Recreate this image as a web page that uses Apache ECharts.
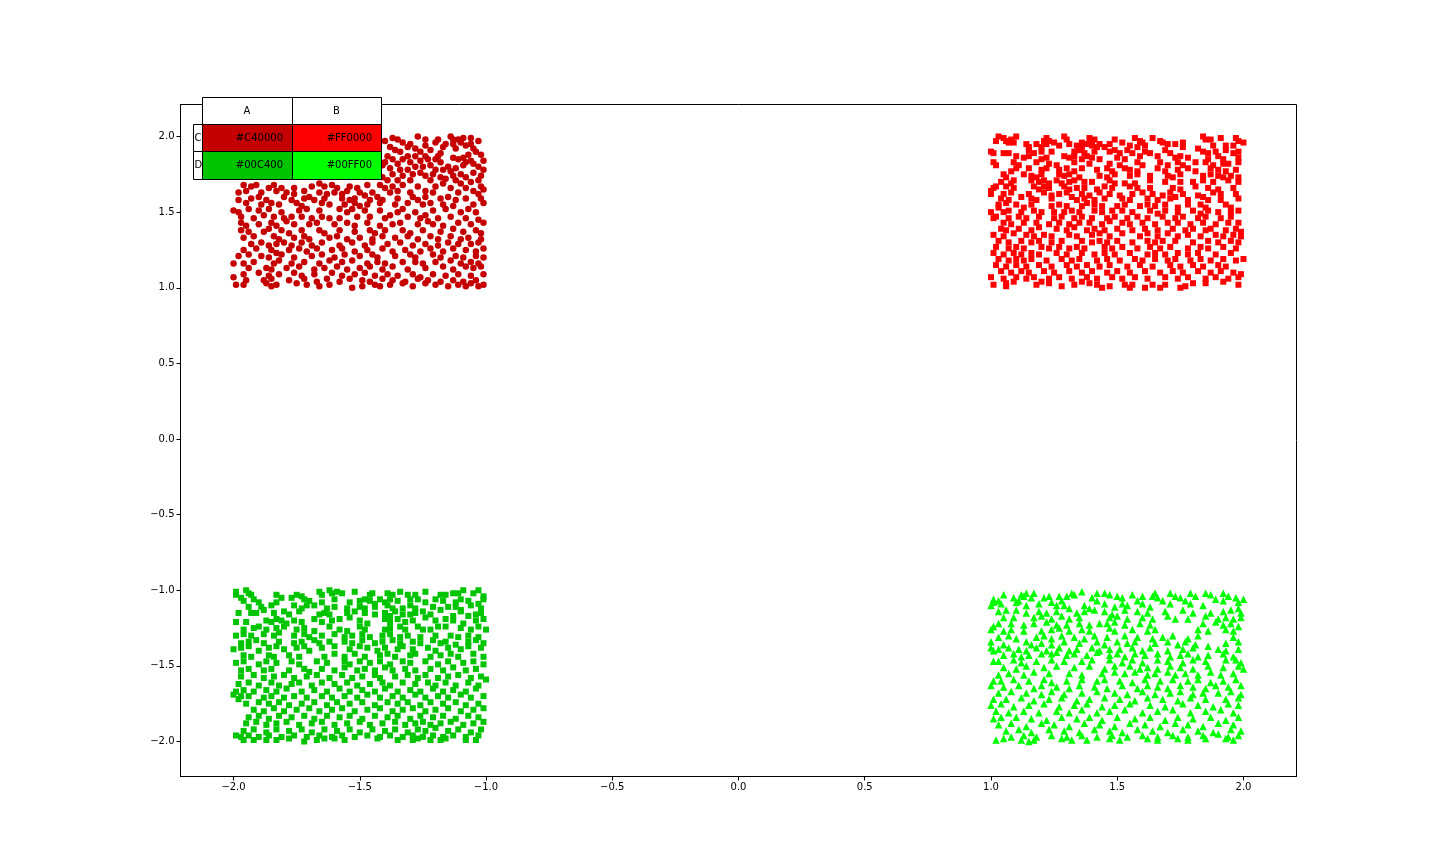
<!DOCTYPE html>
<html><head><meta charset="utf-8">
<script src="https://cdn.jsdelivr.net/npm/echarts@6/dist/echarts.min.js"></script>
<style>html,body{margin:0;padding:0;background:#fff}#c{width:1440px;height:864px}</style>
</head><body><div id="c"></div>
<script>
const xTicks=[-2,-1.5,-1,-0.5,0,0.5,1,1.5,2];
const yTicks=[-2,-1.5,-1,-0.5,0,0.5,1,1.5,2];
const tableCols=['A','B'];
const tableRows=['C','D'];
const tableCells=[['#C40000','#FF0000'],['#00C400','#00FF00']];
const darkRedCircles=[
[-1.27,2],[-1.14,2],[-1.13,1.98],[-1.06,1.99],[-1.24,1.98],[-1.37,1.99],[-1.35,1.98],[-1.4,1.97],[-1.19,1.98],[-1.2,1.96],[-1.11,1.98],[-1.09,1.99],[-1.1,1.96],[-1.33,1.96],[-1.3,1.95],[-1.31,1.93],[-1.24,1.94],[-1.16,1.95],[-1.17,1.93],[-1.13,1.95],[-1.08,1.94],[-1.06,1.95],[-1.03,1.97],
[-1.38,1.93],[-1.36,1.91],[-1.34,1.9],[-1.28,1.92],[-1.26,1.9],[-1.22,1.91],[-1.18,1.89],[-1.19,1.87],[-1.2,1.85],[-1.12,1.92],[-1.05,1.92],[-1.04,1.9],[-1.02,1.88],[-1.07,1.88],[-1.09,1.86],[-1.11,1.85],[-1.13,1.86],[-1.08,1.83],[-1.09,1.81],[-1.06,1.84],[-1.05,1.82],
[-1.39,1.87],[-1.37,1.85],[-1.31,1.87],[-1.28,1.87],[-1.24,1.87],[-1.23,1.85],[-1.26,1.84],[-1.3,1.83],[-1.33,1.85],[-1.35,1.82],[-1.4,1.83],[-1.41,1.81],[-1.18,1.83],[-1.15,1.8],[-1.22,1.81],[-1.25,1.8],[-1.28,1.8],[-1.01,1.84],[-1.03,1.8],[-1.01,1.78],[-1.38,1.79],[-1.34,1.78],[-1.31,1.78],[-1.2,1.78],[-1.17,1.78],[-1.14,1.77],[-1.12,1.79],
[-1.37,1.75],[-1.33,1.74],[-1.29,1.75],[-1.26,1.76],[-1.24,1.74],[-1.21,1.75],[-1.18,1.73],[-1.16,1.72],[-1.13,1.74],[-1.1,1.75],[-1.08,1.73],[-1.05,1.76],[-1.02,1.74],[-1.41,1.73],[-1.39,1.71],[-1.35,1.71],[-1.3,1.71],[-1.22,1.71],[-1.12,1.71],[-1.1,1.69],[-1.06,1.7],[-1.03,1.71],
[-1.96,1.68],[-1.93,1.67],[-1.91,1.68],[-1.86,1.66],[-1.84,1.68],[-1.81,1.66],[-1.76,1.66],[-1.69,1.67],[-1.66,1.69],[-1.64,1.67],[-1.61,1.68],[-1.59,1.66],[-1.54,1.67],[-1.51,1.66],[-1.47,1.68],[-1.42,1.68],[-1.4,1.66],[-1.37,1.67],[-1.33,1.68],[-1.27,1.67],[-1.2,1.67],[-1.17,1.69],[-1.14,1.66],[-1.08,1.66],[-1.02,1.67],[-1.01,1.65],
[-1.98,1.63],[-1.95,1.64],[-1.89,1.63],[-1.83,1.64],[-1.79,1.63],[-1.76,1.62],[-1.72,1.64],[-1.66,1.63],[-1.63,1.62],[-1.6,1.63],[-1.57,1.62],[-1.55,1.64],[-1.5,1.63],[-1.48,1.61],[-1.45,1.63],[-1.38,1.63],[-1.35,1.64],[-1.3,1.63],[-1.24,1.64],[-1.21,1.63],[-1.11,1.63],[-1.05,1.64],[-1.03,1.62],
[-1.98,1.58],[-1.93,1.59],[-1.9,1.6],[-1.87,1.58],[-1.8,1.6],[-1.77,1.58],[-1.72,1.59],[-1.7,1.6],[-1.68,1.58],[-1.64,1.59],[-1.57,1.59],[-1.54,1.58],[-1.52,1.59],[-1.46,1.58],[-1.43,1.6],[-1.41,1.58],[-1.35,1.59],[-1.29,1.6],[-1.27,1.58],[-1.24,1.6],[-1.18,1.59],[-1.15,1.6],[-1.12,1.58],[-1.08,1.59],[-1.02,1.59],
[-1.95,1.56],[-1.89,1.55],[-1.85,1.56],[-1.82,1.55],[-1.75,1.56],[-1.73,1.54],[-1.65,1.56],[-1.62,1.55],[-1.56,1.55],[-1.52,1.56],[-1.5,1.54],[-1.47,1.55],[-1.42,1.56],[-1.36,1.55],[-1.31,1.56],[-1.25,1.55],[-1.22,1.56],[-1.17,1.55],[-1.13,1.54],[-1.05,1.55],[-1.01,1.56],
[-2,1.51],[-1.98,1.5],[-1.94,1.52],[-1.9,1.51],[-1.86,1.52],[-1.81,1.5],[-1.74,1.51],[-1.71,1.52],[-1.66,1.51],[-1.58,1.52],[-1.55,1.5],[-1.53,1.52],[-1.48,1.51],[-1.42,1.51],[-1.35,1.5],[-1.33,1.52],[-1.28,1.5],[-1.21,1.51],[-1.16,1.52],[-1.1,1.5],[-1.07,1.52],[-1.04,1.5],
[-1.97,1.47],[-1.92,1.46],[-1.88,1.48],[-1.84,1.47],[-1.8,1.46],[-1.77,1.47],[-1.73,1.47],[-1.69,1.46],[-1.65,1.47],[-1.62,1.46],[-1.58,1.46],[-1.51,1.47],[-1.46,1.47],[-1.4,1.46],[-1.38,1.48],[-1.31,1.47],[-1.26,1.46],[-1.24,1.48],[-1.19,1.46],[-1.14,1.47],[-1.08,1.46],[-1.03,1.45],
[-1.97,1.43],[-1.95,1.41],[-1.9,1.42],[-1.85,1.43],[-1.83,1.41],[-1.79,1.44],[-1.76,1.42],[-1.7,1.42],[-1.67,1.43],[-1.6,1.42],[-1.55,1.43],[-1.52,1.41],[-1.47,1.43],[-1.42,1.41],[-1.37,1.42],[-1.34,1.43],[-1.27,1.42],[-1.23,1.44],[-1.21,1.42],[-1.17,1.41],[-1.11,1.43],[-1.06,1.42],[-1.01,1.43],
[-1.97,1.38],[-1.94,1.37],[-1.88,1.37],[-1.86,1.39],[-1.81,1.38],[-1.78,1.36],[-1.73,1.38],[-1.66,1.38],[-1.64,1.36],[-1.58,1.38],[-1.52,1.37],[-1.46,1.38],[-1.44,1.36],[-1.4,1.38],[-1.33,1.38],[-1.3,1.36],[-1.25,1.38],[-1.18,1.37],[-1.13,1.39],[-1.09,1.37],[-1.04,1.38],[-1.02,1.36],
[-1.96,1.33],[-1.92,1.34],[-1.84,1.34],[-1.82,1.32],[-1.76,1.33],[-1.72,1.34],[-1.7,1.32],[-1.62,1.33],[-1.59,1.34],[-1.55,1.32],[-1.5,1.33],[-1.45,1.32],[-1.41,1.34],[-1.36,1.33],[-1.31,1.34],[-1.27,1.32],[-1.22,1.34],[-1.19,1.32],[-1.14,1.34],[-1.1,1.32],[-1.07,1.33],[-1.02,1.32],
[-1.93,1.29],[-1.89,1.3],[-1.86,1.28],[-1.83,1.29],[-1.8,1.3],[-1.77,1.28],[-1.73,1.3],[-1.69,1.28],[-1.65,1.3],[-1.58,1.28],[-1.53,1.3],[-1.48,1.28],[-1.45,1.3],[-1.39,1.29],[-1.34,1.3],[-1.29,1.28],[-1.24,1.29],[-1.19,1.28],[-1.15,1.3],[-1.11,1.29],[-1.06,1.29],[-1.03,1.3],
[-1.96,1.25],[-1.91,1.26],[-1.85,1.25],[-1.83,1.23],[-1.78,1.25],[-1.74,1.26],[-1.71,1.24],[-1.67,1.26],[-1.61,1.25],[-1.57,1.26],[-1.52,1.24],[-1.47,1.25],[-1.41,1.26],[-1.37,1.24],[-1.32,1.25],[-1.26,1.24],[-1.22,1.26],[-1.17,1.24],[-1.13,1.26],[-1.08,1.25],[-1.04,1.24],[-1.01,1.26],
[-1.98,1.21],[-1.94,1.22],[-1.89,1.21],[-1.86,1.2],[-1.81,1.22],[-1.76,1.2],[-1.69,1.21],[-1.65,1.22],[-1.6,1.2],[-1.56,1.22],[-1.5,1.21],[-1.45,1.22],[-1.43,1.2],[-1.36,1.21],[-1.3,1.22],[-1.28,1.2],[-1.21,1.22],[-1.18,1.2],[-1.12,1.21],[-1.09,1.2],[-1.04,1.21],[-1.01,1.2],
[-1.96,1.16],[-1.92,1.17],[-1.84,1.16],[-1.82,1.18],[-1.77,1.16],[-1.72,1.17],[-1.66,1.16],[-1.62,1.18],[-1.57,1.17],[-1.53,1.18],[-1.47,1.16],[-1.43,1.17],[-1.4,1.16],[-1.33,1.17],[-1.28,1.17],[-1.25,1.16],[-1.2,1.17],[-1.14,1.18],[-1.1,1.16],[-1.06,1.17],[-1.03,1.16],
[-2,1.16],[-1.94,1.13],[-1.87,1.13],[-1.85,1.12],[-1.79,1.13],[-1.74,1.14],[-1.68,1.12],[-1.64,1.13],[-1.59,1.14],[-1.55,1.12],[-1.5,1.13],[-1.46,1.14],[-1.41,1.12],[-1.37,1.14],[-1.31,1.12],[-1.24,1.13],[-1.17,1.14],[-1.13,1.12],[-1.08,1.14],[-1.05,1.13],[-1.02,1.14],
[-2,1.07],[-1.96,1.09],[-1.9,1.1],[-1.86,1.08],[-1.82,1.09],[-1.76,1.1],[-1.73,1.08],[-1.68,1.09],[-1.61,1.1],[-1.57,1.08],[-1.52,1.09],[-1.48,1.1],[-1.44,1.08],[-1.39,1.09],[-1.35,1.08],[-1.29,1.09],[-1.26,1.07],[-1.21,1.09],[-1.16,1.08],[-1.11,1.09],[-1.06,1.08],[-1.01,1.09],
[-1.95,1.05],[-1.88,1.05],[-1.85,1.06],[-1.78,1.05],[-1.72,1.06],[-1.67,1.04],[-1.63,1.06],[-1.58,1.04],[-1.54,1.06],[-1.49,1.05],[-1.46,1.04],[-1.41,1.06],[-1.37,1.05],[-1.32,1.04],[-1.27,1.06],[-1.23,1.05],[-1.18,1.04],[-1.13,1.05],[-1.09,1.04],[-1.04,1.05],
[-1.99,1.02],[-1.96,1.02],[-1.87,1.03],[-1.85,1.01],[-1.83,1.02],[-1.75,1.03],[-1.71,1.02],[-1.66,1.01],[-1.62,1.02],[-1.53,1],[-1.49,1.01],[-1.44,1.02],[-1.42,1.01],[-1.38,1.02],[-1.33,1.03],[-1.29,1.01],[-1.24,1.03],[-1.2,1.02],[-1.15,1.01],[-1.11,1.02],[-1.08,1.01],[-1.06,1.03],[-1.03,1.01],[-1.01,1.02]
];
const redSquares=[
[1.03,2],[1.02,1.97],[1.05,1.99],[1.06,1.97],[1.08,1.98],[1.07,1.96],[1.09,1.96],[1.1,2],[1.22,1.99],[1.23,1.97],[1.21,1.97],[1.29,2],[1.3,1.98],[1.39,1.99],[1.41,1.98],[1.4,1.97],[1.49,1.98],[1.57,1.99],[1.59,1.97],[1.6,1.96],[1.64,1.99],[1.67,1.97],[1.68,1.96],[1.76,1.96],[1.84,2],[1.85,1.98],[1.87,1.98],[1.91,1.99],[1.97,1.99],[1.98,1.97],[2,1.96],
[1.14,1.95],[1.15,1.93],[1.18,1.95],[1.2,1.93],[1.22,1.95],[1.25,1.96],[1.27,1.94],[1.31,1.95],[1.36,1.96],[1.34,1.94],[1.36,1.93],[1.38,1.95],[1.4,1.94],[1.43,1.95],[1.45,1.93],[1.42,1.93],[1.47,1.95],[1.52,1.96],[1.55,1.94],[1.58,1.93],[1.61,1.94],[1.7,1.95],[1.73,1.95],[1.76,1.93],[1.88,1.94],[1.93,1.94],[1.96,1.94],
[1,1.9],[1.01,1.89],[1.05,1.89],[1.07,1.89],[1.15,1.91],[1.17,1.89],[1.2,1.9],[1.24,1.9],[1.33,1.9],[1.35,1.91],[1.37,1.89],[1.41,1.9],[1.47,1.9],[1.49,1.91],[1.51,1.89],[1.54,1.91],[1.56,1.89],[1.61,1.9],[1.63,1.89],[1.69,1.91],[1.71,1.89],[1.82,1.92],[1.84,1.9],[1.86,1.89],[1.89,1.9],[1.93,1.91],[1.96,1.89],[1.98,1.9],
[1.1,1.87],[1.13,1.86],[1.15,1.87],[1.2,1.85],[1.22,1.86],[1.29,1.87],[1.31,1.86],[1.33,1.87],[1.36,1.85],[1.38,1.87],[1.4,1.86],[1.43,1.85],[1.5,1.86],[1.53,1.85],[1.59,1.87],[1.66,1.87],[1.73,1.86],[1.75,1.87],[1.78,1.86],[1.86,1.85],[1.9,1.87],[1.92,1.85],[1.98,1.86],
[1.01,1.83],[1.02,1.81],[1.09,1.83],[1.11,1.81],[1.18,1.83],[1.23,1.82],[1.26,1.81],[1.33,1.83],[1.39,1.82],[1.47,1.82],[1.51,1.81],[1.58,1.83],[1.6,1.81],[1.67,1.83],[1.7,1.81],[1.74,1.83],[1.76,1.81],[1.81,1.83],[1.85,1.83],[1.88,1.81],[1.92,1.82],[1.94,1.82],[1.98,1.83],
[1.1,1.79],[1.08,1.77],[1.15,1.79],[1.2,1.78],[1.22,1.79],[1.27,1.78],[1.3,1.79],[1.33,1.77],[1.36,1.79],[1.42,1.78],[1.46,1.79],[1.48,1.77],[1.53,1.79],[1.55,1.78],[1.58,1.77],[1.66,1.79],[1.69,1.77],[1.74,1.78],[1.78,1.79],[1.81,1.77],[1.87,1.79],[1.9,1.78],[1.93,1.77],[1.97,1.78],
[1.05,1.75],[1.06,1.73],[1.13,1.75],[1.16,1.74],[1.18,1.73],[1.2,1.75],[1.27,1.75],[1.29,1.74],[1.31,1.75],[1.35,1.73],[1.43,1.74],[1.46,1.73],[1.49,1.75],[1.55,1.74],[1.58,1.75],[1.63,1.74],[1.7,1.74],[1.72,1.73],[1.75,1.75],[1.84,1.74],[1.87,1.75],[1.9,1.74],[1.92,1.73],[1.95,1.74],[1.98,1.73],
[1.04,1.7],[1.09,1.71],[1.08,1.69],[1.16,1.71],[1.19,1.7],[1.21,1.71],[1.23,1.69],[1.26,1.71],[1.28,1.69],[1.31,1.7],[1.33,1.71],[1.37,1.7],[1.4,1.7],[1.47,1.71],[1.49,1.69],[1.53,1.69],[1.57,1.69],[1.63,1.71],[1.69,1.7],[1.75,1.7],[1.8,1.7],[1.84,1.71],[1.88,1.7],[1.94,1.71],[1.98,1.7],
[1.01,1.66],[1.02,1.67],[1.06,1.67],[1.09,1.66],[1.17,1.67],[1.19,1.65],[1.21,1.67],[1.23,1.66],[1.29,1.67],[1.31,1.65],[1.34,1.66],[1.37,1.66],[1.42,1.65],[1.45,1.67],[1.48,1.66],[1.55,1.67],[1.58,1.66],[1.63,1.66],[1.72,1.66],[1.75,1.65],[1.81,1.67],[1.86,1.66],[1.9,1.65],[1.96,1.66],
[1,1.62],[1,1.64],[1.05,1.62],[1.08,1.63],[1.15,1.62],[1.21,1.63],[1.24,1.61],[1.27,1.62],[1.3,1.63],[1.36,1.62],[1.39,1.61],[1.43,1.63],[1.47,1.62],[1.51,1.61],[1.56,1.62],[1.6,1.63],[1.64,1.62],[1.68,1.61],[1.71,1.63],[1.76,1.62],[1.82,1.61],[1.88,1.63],[1.91,1.62],[1.97,1.62],
[1.04,1.59],[1.07,1.58],[1.12,1.6],[1.16,1.59],[1.18,1.58],[1.24,1.59],[1.32,1.6],[1.34,1.58],[1.37,1.59],[1.41,1.58],[1.45,1.59],[1.52,1.59],[1.55,1.58],[1.62,1.59],[1.66,1.58],[1.71,1.59],[1.73,1.6],[1.78,1.58],[1.84,1.6],[1.86,1.58],[1.91,1.58],[1.98,1.59],
[1.03,1.55],[1.03,1.53],[1.06,1.56],[1.1,1.55],[1.13,1.53],[1.16,1.55],[1.24,1.54],[1.27,1.55],[1.3,1.54],[1.36,1.54],[1.38,1.56],[1.41,1.55],[1.44,1.54],[1.5,1.54],[1.53,1.55],[1.59,1.54],[1.62,1.55],[1.65,1.54],[1.69,1.55],[1.74,1.53],[1.78,1.55],[1.83,1.55],[1.85,1.53],[1.93,1.55],[1.95,1.53],
[1,1.5],[1.05,1.5],[1.07,1.51],[1.12,1.5],[1.17,1.51],[1.2,1.5],[1.25,1.5],[1.29,1.5],[1.32,1.51],[1.35,1.5],[1.41,1.51],[1.44,1.5],[1.48,1.51],[1.52,1.51],[1.56,1.5],[1.63,1.51],[1.66,1.49],[1.69,1.51],[1.74,1.5],[1.8,1.51],[1.83,1.49],[1.86,1.51],[1.9,1.5],[1.95,1.5],[1.98,1.51],
[1.01,1.46],[1.02,1.47],[1.07,1.46],[1.11,1.47],[1.14,1.46],[1.19,1.47],[1.25,1.46],[1.28,1.47],[1.33,1.46],[1.36,1.47],[1.4,1.46],[1.46,1.46],[1.49,1.47],[1.54,1.46],[1.58,1.47],[1.62,1.46],[1.68,1.47],[1.73,1.46],[1.76,1.47],[1.82,1.46],[1.85,1.47],[1.91,1.46],[1.95,1.47],
[1.05,1.43],[1.08,1.42],[1.13,1.43],[1.18,1.43],[1.23,1.42],[1.27,1.43],[1.31,1.42],[1.35,1.43],[1.39,1.43],[1.44,1.42],[1.47,1.44],[1.52,1.43],[1.55,1.42],[1.6,1.43],[1.65,1.42],[1.7,1.43],[1.74,1.43],[1.79,1.42],[1.84,1.43],[1.89,1.42],[1.94,1.43],[1.98,1.43],
[1.04,1.39],[1.06,1.38],[1.11,1.39],[1.16,1.38],[1.19,1.4],[1.26,1.39],[1.3,1.38],[1.33,1.4],[1.38,1.38],[1.41,1.39],[1.45,1.38],[1.5,1.39],[1.56,1.38],[1.61,1.39],[1.66,1.38],[1.72,1.39],[1.77,1.38],[1.8,1.39],[1.85,1.38],[1.87,1.39],[1.93,1.38],[1.97,1.39],[1.99,1.37],
[1.01,1.35],[1.05,1.34],[1.09,1.36],[1.14,1.35],[1.17,1.34],[1.21,1.35],[1.24,1.34],[1.31,1.35],[1.34,1.34],[1.4,1.35],[1.43,1.36],[1.47,1.34],[1.52,1.36],[1.59,1.34],[1.62,1.36],[1.66,1.34],[1.7,1.36],[1.74,1.34],[1.78,1.35],[1.83,1.34],[1.89,1.35],[1.92,1.34],[1.96,1.35],[1.99,1.34],
[1.03,1.31],[1.07,1.3],[1.12,1.31],[1.16,1.3],[1.19,1.31],[1.24,1.3],[1.28,1.31],[1.36,1.31],[1.4,1.3],[1.43,1.31],[1.46,1.3],[1.5,1.31],[1.56,1.3],[1.62,1.31],[1.65,1.3],[1.68,1.31],[1.73,1.31],[1.8,1.3],[1.86,1.31],[1.9,1.3],[1.95,1.31],[1.98,1.3],
[1.02,1.27],[1.07,1.26],[1.1,1.27],[1.13,1.26],[1.2,1.27],[1.23,1.26],[1.27,1.27],[1.31,1.26],[1.34,1.27],[1.37,1.26],[1.45,1.27],[1.48,1.26],[1.52,1.27],[1.58,1.26],[1.63,1.27],[1.67,1.26],[1.71,1.27],[1.78,1.26],[1.83,1.27],[1.86,1.26],[1.92,1.27],[1.97,1.26],
[1.01,1.23],[1.05,1.22],[1.09,1.23],[1.12,1.22],[1.16,1.23],[1.19,1.22],[1.26,1.23],[1.3,1.22],[1.36,1.23],[1.41,1.22],[1.45,1.23],[1.49,1.22],[1.55,1.23],[1.62,1.22],[1.65,1.23],[1.69,1.22],[1.74,1.23],[1.78,1.22],[1.82,1.23],[1.89,1.22],[1.95,1.23],
[1.03,1.19],[1.07,1.18],[1.1,1.19],[1.13,1.18],[1.16,1.19],[1.22,1.18],[1.28,1.19],[1.32,1.18],[1.35,1.19],[1.42,1.18],[1.46,1.19],[1.51,1.18],[1.57,1.19],[1.6,1.18],[1.65,1.19],[1.7,1.18],[1.73,1.19],[1.79,1.18],[1.83,1.19],[1.87,1.18],[1.92,1.19],[1.97,1.18],[2,1.19],
[1.02,1.15],[1.06,1.14],[1.1,1.15],[1.14,1.14],[1.19,1.15],[1.24,1.14],[1.3,1.15],[1.34,1.14],[1.38,1.15],[1.43,1.14],[1.47,1.15],[1.54,1.14],[1.59,1.15],[1.64,1.14],[1.71,1.15],[1.75,1.14],[1.8,1.15],[1.84,1.14],[1.9,1.15],[1.93,1.14],
[1.04,1.11],[1.08,1.1],[1.12,1.11],[1.15,1.1],[1.21,1.11],[1.25,1.1],[1.31,1.11],[1.36,1.1],[1.4,1.11],[1.46,1.1],[1.5,1.11],[1.55,1.1],[1.61,1.11],[1.67,1.1],[1.72,1.11],[1.76,1.1],[1.82,1.11],[1.87,1.1],[1.91,1.11],[1.96,1.1],[1.99,1.09],
[1,1.07],[1.05,1.06],[1.1,1.07],[1.14,1.06],[1.17,1.07],[1.23,1.06],[1.27,1.07],[1.32,1.06],[1.38,1.07],[1.42,1.06],[1.48,1.07],[1.52,1.06],[1.57,1.07],[1.62,1.06],[1.69,1.07],[1.74,1.06],[1.78,1.07],[1.85,1.06],[1.89,1.07],[1.94,1.06],[1.98,1.07],
[1.01,1.02],[1.06,1.01],[1.09,1.04],[1.06,1.03],[1.18,1.02],[1.2,1.04],[1.23,1.03],[1.28,1.01],[1.33,1.02],[1.36,1.04],[1.39,1.03],[1.42,1.02],[1.44,1],[1.47,1.01],[1.53,1.02],[1.55,1],[1.56,1.02],[1.61,1],[1.64,1.02],[1.67,1],[1.69,1.02],[1.75,1],[1.77,1.01],[1.8,1.03],[1.85,1.03],[1.92,1.04],[1.98,1.02]
];
const greenSquares=[
[-1.99,-1.01],[-1.95,-1],[-1.94,-1.02],[-1.99,-1.03],[-1.97,-1.05],[-1.93,-1.03],[-1.66,-1.01],[-1.65,-1.03],[-1.62,-1],[-1.61,-1.02],[-1.59,-1.01],[-1.83,-1.03],[-1.81,-1.05],[-1.77,-1.05],[-1.75,-1.03],[-1.73,-1.04],[-1.72,-1.06],[-1.57,-1.02],[-1.52,-1.01],[-1.46,-1.03],[-1.45,-1.02],[-1.39,-1.02],[-1.37,-1.03],[-1.34,-1.01],[-1.31,-1.03],[-1.28,-1.03],[-1.24,-1.01],[-1.18,-1.03],[-1.16,-1.03],[-1.13,-1.02],[-1.11,-1.02],[-1.09,-1],[-1.03,-1],[-1.01,-1.04],[-1.05,-1.02],[-1.01,-1.06],
[-1.96,-1.07],[-1.92,-1.06],[-1.9,-1.08],[-1.83,-1.08],[-1.85,-1.1],[-1.7,-1.07],[-1.68,-1.1],[-1.65,-1.08],[-1.6,-1.06],[-1.54,-1.08],[-1.5,-1.07],[-1.48,-1.06],[-1.46,-1.07],[-1.44,-1.09],[-1.42,-1.06],[-1.4,-1.08],[-1.38,-1.06],[-1.35,-1.07],[-1.3,-1.06],[-1.27,-1.06],[-1.24,-1.08],[-1.2,-1.06],[-1.17,-1.07],[-1.12,-1.08],[-1.1,-1.06],[-1.07,-1.07],[-1.03,-1.09],
[-1.94,-1.11],[-1.89,-1.11],[-1.88,-1.13],[-1.76,-1.1],[-1.73,-1.12],[-1.71,-1.1],[-1.63,-1.12],[-1.6,-1.11],[-1.55,-1.12],[-1.5,-1.11],[-1.48,-1.12],[-1.44,-1.11],[-1.39,-1.1],[-1.37,-1.12],[-1.33,-1.12],[-1.3,-1.1],[-1.28,-1.12],[-1.21,-1.11],[-1.18,-1.13],[-1.15,-1.11],[-1.12,-1.11],[-1.1,-1.13],[-1.06,-1.1],[-1.02,-1.12],
[-1.98,-1.15],[-1.93,-1.15],[-1.91,-1.15],[-1.84,-1.15],[-1.8,-1.14],[-1.78,-1.16],[-1.74,-1.14],[-1.66,-1.16],[-1.64,-1.15],[-1.62,-1.16],[-1.55,-1.15],[-1.52,-1.14],[-1.48,-1.15],[-1.44,-1.16],[-1.4,-1.15],[-1.38,-1.17],[-1.36,-1.14],[-1.33,-1.16],[-1.3,-1.16],[-1.28,-1.15],[-1.25,-1.14],[-1.22,-1.16],[-1.13,-1.17],[-1.1,-1.14],[-1.07,-1.17],[-1.04,-1.16],[-1.02,-1.15],
[-1.95,-1.21],[-1.99,-1.21],[-1.87,-1.2],[-1.85,-1.21],[-1.83,-1.19],[-1.81,-1.2],[-1.79,-1.22],[-1.76,-1.2],[-1.73,-1.21],[-1.68,-1.19],[-1.65,-1.21],[-1.61,-1.2],[-1.58,-1.19],[-1.54,-1.18],[-1.5,-1.2],[-1.47,-1.22],[-1.4,-1.19],[-1.38,-1.21],[-1.35,-1.19],[-1.32,-1.21],[-1.29,-1.2],[-1.24,-1.18],[-1.2,-1.2],[-1.16,-1.19],[-1.13,-1.2],[-1.09,-1.22],[-1.04,-1.2],[-1.01,-1.19],
[-1.96,-1.26],[-1.92,-1.25],[-1.9,-1.24],[-1.87,-1.26],[-1.83,-1.25],[-1.8,-1.24],[-1.75,-1.26],[-1.72,-1.25],[-1.68,-1.27],[-1.62,-1.24],[-1.58,-1.26],[-1.55,-1.27],[-1.5,-1.24],[-1.48,-1.26],[-1.4,-1.26],[-1.38,-1.25],[-1.34,-1.24],[-1.32,-1.26],[-1.27,-1.24],[-1.25,-1.26],[-1.22,-1.26],[-1.19,-1.24],[-1.16,-1.24],[-1.1,-1.25],[-1.06,-1.26],[-1.03,-1.24],[-1,-1.26],
[-1.99,-1.3],[-1.96,-1.29],[-1.93,-1.3],[-1.88,-1.29],[-1.84,-1.3],[-1.82,-1.28],[-1.76,-1.3],[-1.72,-1.29],[-1.7,-1.31],[-1.65,-1.3],[-1.6,-1.29],[-1.56,-1.31],[-1.53,-1.3],[-1.49,-1.29],[-1.46,-1.31],[-1.41,-1.3],[-1.38,-1.29],[-1.34,-1.31],[-1.31,-1.3],[-1.26,-1.31],[-1.2,-1.3],[-1.14,-1.3],[-1.11,-1.31],[-1.07,-1.3],[-1.03,-1.31],
[-1.97,-1.35],[-1.94,-1.34],[-1.91,-1.33],[-1.88,-1.35],[-1.82,-1.34],[-1.76,-1.35],[-1.73,-1.34],[-1.68,-1.33],[-1.66,-1.35],[-1.62,-1.34],[-1.56,-1.34],[-1.53,-1.35],[-1.49,-1.33],[-1.44,-1.35],[-1.41,-1.34],[-1.37,-1.33],[-1.34,-1.35],[-1.29,-1.34],[-1.26,-1.35],[-1.21,-1.33],[-1.18,-1.35],[-1.16,-1.34],[-1.12,-1.36],[-1.07,-1.34],[-1.04,-1.33],[-1.01,-1.35],
[-2,-1.39],[-1.97,-1.38],[-1.94,-1.37],[-1.9,-1.4],[-1.86,-1.38],[-1.83,-1.37],[-1.8,-1.39],[-1.75,-1.38],[-1.72,-1.37],[-1.7,-1.4],[-1.65,-1.38],[-1.6,-1.37],[-1.54,-1.39],[-1.5,-1.37],[-1.47,-1.38],[-1.43,-1.4],[-1.4,-1.38],[-1.35,-1.39],[-1.33,-1.37],[-1.29,-1.39],[-1.23,-1.38],[-1.2,-1.4],[-1.15,-1.38],[-1.1,-1.39],[-1.07,-1.37],[-1.02,-1.38],
[-1.96,-1.43],[-1.93,-1.44],[-1.86,-1.43],[-1.84,-1.44],[-1.78,-1.43],[-1.74,-1.44],[-1.64,-1.44],[-1.6,-1.42],[-1.56,-1.44],[-1.52,-1.42],[-1.48,-1.44],[-1.42,-1.43],[-1.39,-1.42],[-1.36,-1.44],[-1.3,-1.43],[-1.28,-1.42],[-1.22,-1.44],[-1.18,-1.43],[-1.14,-1.42],[-1.11,-1.44],[-1.05,-1.42],[-1.01,-1.44],
[-1.99,-1.48],[-1.96,-1.47],[-1.9,-1.49],[-1.87,-1.47],[-1.83,-1.48],[-1.77,-1.47],[-1.74,-1.49],[-1.67,-1.47],[-1.63,-1.48],[-1.56,-1.47],[-1.54,-1.49],[-1.5,-1.47],[-1.46,-1.48],[-1.42,-1.47],[-1.38,-1.49],[-1.33,-1.47],[-1.3,-1.48],[-1.24,-1.47],[-1.19,-1.49],[-1.15,-1.47],[-1.09,-1.48],[-1.05,-1.47],[-1.01,-1.49],
[-1.97,-1.53],[-1.94,-1.52],[-1.88,-1.53],[-1.85,-1.52],[-1.78,-1.53],[-1.72,-1.52],[-1.7,-1.54],[-1.65,-1.52],[-1.6,-1.53],[-1.56,-1.51],[-1.51,-1.53],[-1.48,-1.52],[-1.44,-1.53],[-1.4,-1.51],[-1.37,-1.53],[-1.32,-1.52],[-1.28,-1.53],[-1.22,-1.52],[-1.17,-1.53],[-1.13,-1.51],[-1.08,-1.53],[-1.04,-1.52],
[-1.97,-1.57],[-1.92,-1.56],[-1.88,-1.58],[-1.84,-1.57],[-1.8,-1.56],[-1.76,-1.58],[-1.71,-1.57],[-1.67,-1.56],[-1.62,-1.58],[-1.57,-1.56],[-1.53,-1.58],[-1.49,-1.57],[-1.44,-1.56],[-1.42,-1.58],[-1.36,-1.57],[-1.31,-1.56],[-1.27,-1.58],[-1.24,-1.56],[-1.19,-1.58],[-1.15,-1.57],[-1.11,-1.56],[-1.06,-1.58],[-1.02,-1.57],[-1,-1.59],
[-1.98,-1.62],[-1.94,-1.61],[-1.9,-1.63],[-1.85,-1.61],[-1.82,-1.63],[-1.77,-1.62],[-1.74,-1.61],[-1.69,-1.63],[-1.65,-1.61],[-1.6,-1.62],[-1.55,-1.61],[-1.51,-1.63],[-1.46,-1.62],[-1.41,-1.61],[-1.38,-1.63],[-1.33,-1.61],[-1.28,-1.62],[-1.23,-1.61],[-1.2,-1.63],[-1.16,-1.61],[-1.12,-1.63],[-1.07,-1.61],[-1.03,-1.63],
[-1.99,-1.67],[-1.96,-1.66],[-1.92,-1.67],[-1.87,-1.66],[-1.83,-1.67],[-1.79,-1.65],[-1.73,-1.67],[-1.68,-1.66],[-1.63,-1.67],[-1.58,-1.65],[-1.54,-1.67],[-1.49,-1.66],[-1.44,-1.67],[-1.4,-1.65],[-1.35,-1.67],[-1.3,-1.66],[-1.26,-1.67],[-1.21,-1.65],[-1.17,-1.67],[-1.13,-1.66],[-1.08,-1.67],[-1.04,-1.65],
[-2,-1.69],[-1.97,-1.7],[-1.98,-1.72],[-1.94,-1.7],[-1.88,-1.71],[-1.85,-1.7],[-1.8,-1.71],[-1.76,-1.7],[-1.71,-1.71],[-1.65,-1.7],[-1.61,-1.71],[-1.56,-1.7],[-1.51,-1.71],[-1.47,-1.69],[-1.42,-1.71],[-1.37,-1.7],[-1.33,-1.71],[-1.28,-1.69],[-1.24,-1.71],[-1.19,-1.7],[-1.15,-1.71],[-1.1,-1.69],[-1.06,-1.71],[-1.01,-1.7],
[-1.95,-1.75],[-1.9,-1.74],[-1.86,-1.75],[-1.82,-1.74],[-1.78,-1.76],[-1.73,-1.75],[-1.68,-1.74],[-1.63,-1.76],[-1.59,-1.74],[-1.54,-1.75],[-1.49,-1.74],[-1.44,-1.76],[-1.39,-1.74],[-1.35,-1.75],[-1.31,-1.74],[-1.26,-1.76],[-1.22,-1.74],[-1.17,-1.75],[-1.12,-1.74],[-1.08,-1.76],[-1.03,-1.75],
[-1.92,-1.79],[-1.88,-1.8],[-1.84,-1.78],[-1.8,-1.8],[-1.75,-1.79],[-1.7,-1.78],[-1.66,-1.8],[-1.61,-1.79],[-1.57,-1.78],[-1.52,-1.8],[-1.47,-1.79],[-1.42,-1.78],[-1.37,-1.8],[-1.33,-1.79],[-1.29,-1.78],[-1.24,-1.8],[-1.2,-1.79],[-1.15,-1.78],[-1.1,-1.8],[-1.05,-1.79],[-1.01,-1.78],
[-1.94,-1.84],[-1.9,-1.83],[-1.86,-1.85],[-1.82,-1.83],[-1.77,-1.84],[-1.72,-1.83],[-1.68,-1.85],[-1.63,-1.83],[-1.58,-1.84],[-1.54,-1.83],[-1.49,-1.85],[-1.44,-1.83],[-1.39,-1.84],[-1.35,-1.83],[-1.3,-1.85],[-1.26,-1.83],[-1.21,-1.84],[-1.17,-1.83],[-1.12,-1.85],[-1.07,-1.83],[-1.03,-1.84],
[-1.95,-1.88],[-1.91,-1.87],[-1.87,-1.89],[-1.83,-1.88],[-1.79,-1.87],[-1.74,-1.89],[-1.69,-1.88],[-1.65,-1.87],[-1.6,-1.89],[-1.55,-1.88],[-1.5,-1.87],[-1.46,-1.89],[-1.41,-1.88],[-1.36,-1.87],[-1.32,-1.89],[-1.28,-1.88],[-1.25,-1.87],[-1.22,-1.89],[-1.18,-1.88],[-1.14,-1.87],[-1.09,-1.89],[-1.05,-1.88],[-1.01,-1.87],
[-1.96,-1.93],[-1.92,-1.92],[-1.87,-1.94],[-1.83,-1.92],[-1.78,-1.93],[-1.73,-1.92],[-1.69,-1.94],[-1.64,-1.92],[-1.59,-1.93],[-1.54,-1.92],[-1.5,-1.94],[-1.45,-1.92],[-1.4,-1.93],[-1.36,-1.92],[-1.31,-1.94],[-1.27,-1.92],[-1.24,-1.93],[-1.2,-1.91],[-1.15,-1.93],[-1.11,-1.92],[-1.06,-1.94],[-1.02,-1.92],
[-1.99,-1.96],[-1.97,-1.97],[-1.94,-1.96],[-1.9,-1.97],[-1.86,-1.96],[-1.81,-1.97],[-1.76,-1.96],[-1.71,-1.97],[-1.66,-1.96],[-1.61,-1.97],[-1.57,-1.96],[-1.52,-1.97],[-1.47,-1.96],[-1.42,-1.97],[-1.38,-1.96],[-1.33,-1.97],[-1.29,-1.96],[-1.25,-1.97],[-1.21,-1.96],[-1.17,-1.97],[-1.13,-1.96],[-1.08,-1.97],[-1.03,-1.96],
[-1.96,-1.99],[-1.92,-1.99],[-1.87,-1.99],[-1.83,-1.99],[-1.78,-1.98],[-1.72,-2],[-1.67,-1.99],[-1.64,-1.98],[-1.6,-1.98],[-1.56,-1.99],[-1.43,-1.98],[-1.35,-1.99],[-1.29,-1.99],[-1.27,-1.98],[-1.22,-1.99],[-1.18,-1.99],[-1.16,-1.98],[-1.08,-1.99],[-1.04,-1.99]
];
const limeTriangles=[
[1.36,-1.01],[1.14,-1.02],[1.12,-1.03],[1.17,-1.02],[1.13,-1.04],[1.05,-1.03],[1.32,-1.02],[1.33,-1.03],[1.3,-1.04],[1.42,-1.02],[1.45,-1.02],[1.47,-1.03],[1.5,-1.04],[1.56,-1.03],[1.6,-1.04],[1.65,-1.02],[1.64,-1.04],[1.71,-1.02],[1.73,-1.04],[1.79,-1.02],[1.81,-1.04],[1.85,-1.02],[1.87,-1.03],[1.92,-1.02],[1.94,-1.04],
[1.01,-1.08],[1.03,-1.07],[1.01,-1.06],[1.09,-1.05],[1.11,-1.07],[1.16,-1.05],[1.21,-1.05],[1.23,-1.04],[1.27,-1.04],[1.28,-1.07],[1.4,-1.05],[1.42,-1.07],[1.52,-1.05],[1.58,-1.07],[1.66,-1.05],[1.68,-1.07],[1.75,-1.05],[1.77,-1.07],[1.89,-1.06],[1.92,-1.07],[1.97,-1.05],[2,-1.06],[1.98,-1.08],
[1,-1.1],[1.04,-1.09],[1.1,-1.08],[1.14,-1.1],[1.19,-1.09],[1.24,-1.08],[1.26,-1.1],[1.29,-1.1],[1.31,-1.12],[1.37,-1.1],[1.39,-1.12],[1.45,-1.09],[1.49,-1.11],[1.52,-1.09],[1.54,-1.1],[1.6,-1.09],[1.63,-1.11],[1.71,-1.09],[1.79,-1.09],[1.84,-1.1],[1.98,-1.12],
[1.03,-1.14],[1.06,-1.13],[1.1,-1.13],[1.14,-1.15],[1.19,-1.14],[1.22,-1.15],[1.26,-1.14],[1.34,-1.15],[1.37,-1.14],[1.41,-1.13],[1.45,-1.14],[1.48,-1.16],[1.53,-1.13],[1.58,-1.14],[1.62,-1.15],[1.69,-1.14],[1.76,-1.13],[1.8,-1.15],[1.87,-1.15],[1.92,-1.14],[1.95,-1.13],[1.99,-1.15],
[1.05,-1.18],[1.09,-1.18],[1.17,-1.18],[1.2,-1.17],[1.24,-1.19],[1.28,-1.17],[1.31,-1.19],[1.35,-1.18],[1.47,-1.18],[1.5,-1.17],[1.54,-1.19],[1.6,-1.18],[1.64,-1.19],[1.7,-1.17],[1.73,-1.19],[1.78,-1.19],[1.85,-1.17],[1.9,-1.19],[1.93,-1.18],[1.96,-1.19],[1.99,-1.18],
[1.01,-1.24],[1.03,-1.22],[1.08,-1.22],[1.13,-1.23],[1.17,-1.22],[1.22,-1.21],[1.26,-1.23],[1.3,-1.23],[1.35,-1.22],[1.39,-1.23],[1.43,-1.22],[1.46,-1.22],[1.49,-1.21],[1.53,-1.23],[1.59,-1.22],[1.63,-1.23],[1.84,-1.22],[1.89,-1.21],[1.92,-1.23],[1.95,-1.22],[1.98,-1.24],
[1,-1.26],[1.05,-1.27],[1.08,-1.26],[1.13,-1.27],[1.2,-1.27],[1.24,-1.26],[1.27,-1.25],[1.31,-1.27],[1.36,-1.26],[1.39,-1.27],[1.47,-1.25],[1.49,-1.27],[1.56,-1.26],[1.62,-1.27],[1.65,-1.26],[1.82,-1.26],[1.86,-1.27],[1.93,-1.26],[1.96,-1.27],
[1.03,-1.31],[1.07,-1.3],[1.1,-1.32],[1.18,-1.31],[1.21,-1.3],[1.24,-1.32],[1.28,-1.3],[1.33,-1.31],[1.37,-1.32],[1.41,-1.3],[1.46,-1.31],[1.53,-1.3],[1.58,-1.31],[1.64,-1.32],[1.68,-1.31],[1.72,-1.3],[1.78,-1.32],[1.82,-1.3],[1.96,-1.31],
[1,-1.34],[1.05,-1.36],[1.14,-1.34],[1.16,-1.36],[1.2,-1.35],[1.24,-1.36],[1.29,-1.34],[1.35,-1.35],[1.42,-1.34],[1.45,-1.36],[1.5,-1.34],[1.54,-1.35],[1.57,-1.34],[1.65,-1.35],[1.7,-1.34],[1.74,-1.36],[1.77,-1.34],[1.81,-1.36],[1.93,-1.35],[1.98,-1.34],
[1.01,-1.4],[1,-1.38],[1.03,-1.39],[1.07,-1.38],[1.11,-1.39],[1.14,-1.4],[1.18,-1.38],[1.22,-1.4],[1.27,-1.38],[1.31,-1.4],[1.34,-1.39],[1.4,-1.38],[1.43,-1.4],[1.47,-1.39],[1.51,-1.39],[1.56,-1.38],[1.6,-1.4],[1.63,-1.38],[1.7,-1.4],[1.76,-1.39],[1.8,-1.38],[1.86,-1.37],[1.9,-1.39],[1.93,-1.4],[1.98,-1.39],
[1.05,-1.43],[1.09,-1.42],[1.12,-1.44],[1.15,-1.43],[1.2,-1.42],[1.24,-1.42],[1.26,-1.41],[1.3,-1.43],[1.33,-1.42],[1.38,-1.43],[1.42,-1.41],[1.47,-1.43],[1.5,-1.42],[1.53,-1.44],[1.57,-1.42],[1.61,-1.43],[1.66,-1.42],[1.71,-1.44],[1.75,-1.43],[1.78,-1.42],[1.82,-1.44],[1.86,-1.43],[1.92,-1.42],[1.96,-1.44],
[1.01,-1.47],[1.03,-1.47],[1.09,-1.46],[1.12,-1.48],[1.18,-1.47],[1.24,-1.46],[1.29,-1.47],[1.36,-1.47],[1.4,-1.46],[1.47,-1.46],[1.52,-1.48],[1.56,-1.46],[1.6,-1.48],[1.66,-1.46],[1.7,-1.47],[1.76,-1.48],[1.8,-1.46],[1.85,-1.47],[1.93,-1.46],[1.99,-1.48],[1.97,-1.46],
[1.05,-1.51],[1.1,-1.52],[1.14,-1.5],[1.21,-1.51],[1.26,-1.5],[1.33,-1.51],[1.39,-1.5],[1.45,-1.52],[1.49,-1.5],[1.55,-1.5],[1.59,-1.52],[1.62,-1.51],[1.66,-1.52],[1.71,-1.5],[1.75,-1.51],[1.8,-1.52],[1.86,-1.5],[1.92,-1.51],[1.98,-1.5],[2,-1.52],
[1.03,-1.56],[1.07,-1.55],[1.13,-1.56],[1.17,-1.54],[1.23,-1.55],[1.31,-1.55],[1.36,-1.56],[1.44,-1.55],[1.49,-1.54],[1.53,-1.55],[1.57,-1.54],[1.62,-1.56],[1.65,-1.55],[1.7,-1.54],[1.73,-1.56],[1.77,-1.55],[1.82,-1.56],[1.87,-1.54],[1.91,-1.56],[1.96,-1.55],
[1.01,-1.6],[1.04,-1.6],[1.09,-1.59],[1.15,-1.6],[1.21,-1.59],[1.24,-1.61],[1.3,-1.6],[1.36,-1.59],[1.42,-1.6],[1.45,-1.59],[1.51,-1.6],[1.56,-1.61],[1.61,-1.59],[1.67,-1.6],[1.72,-1.59],[1.78,-1.6],[1.82,-1.59],[1.87,-1.61],[1.92,-1.6],[1.97,-1.59],
[1,-1.63],[1.05,-1.64],[1.11,-1.63],[1.17,-1.65],[1.2,-1.63],[1.26,-1.64],[1.31,-1.65],[1.35,-1.63],[1.41,-1.64],[1.46,-1.65],[1.52,-1.63],[1.58,-1.65],[1.62,-1.63],[1.66,-1.64],[1.7,-1.65],[1.75,-1.63],[1.8,-1.64],[1.85,-1.65],[1.89,-1.63],[1.94,-1.64],[1.99,-1.63],
[1.03,-1.68],[1.08,-1.67],[1.14,-1.68],[1.2,-1.69],[1.24,-1.67],[1.29,-1.69],[1.36,-1.68],[1.42,-1.67],[1.49,-1.68],[1.54,-1.69],[1.6,-1.67],[1.65,-1.69],[1.71,-1.68],[1.75,-1.67],[1.8,-1.69],[1.84,-1.68],[1.9,-1.68],[1.95,-1.67],[1.99,-1.69],
[1.01,-1.72],[1.06,-1.72],[1.12,-1.71],[1.17,-1.73],[1.23,-1.72],[1.28,-1.71],[1.34,-1.73],[1.39,-1.72],[1.45,-1.71],[1.51,-1.72],[1.57,-1.73],[1.62,-1.71],[1.68,-1.72],[1.74,-1.73],[1.79,-1.71],[1.85,-1.72],[1.93,-1.72],[1.98,-1.71],
[1,-1.76],[1.04,-1.75],[1.09,-1.77],[1.15,-1.76],[1.21,-1.75],[1.27,-1.77],[1.33,-1.76],[1.38,-1.75],[1.44,-1.77],[1.49,-1.76],[1.55,-1.75],[1.63,-1.76],[1.69,-1.77],[1.76,-1.75],[1.82,-1.76],[1.88,-1.77],[1.94,-1.75],[1.98,-1.76],
[1.02,-1.8],[1.07,-1.81],[1.13,-1.8],[1.19,-1.81],[1.26,-1.8],[1.31,-1.81],[1.36,-1.79],[1.42,-1.81],[1.47,-1.8],[1.53,-1.79],[1.6,-1.81],[1.66,-1.8],[1.72,-1.79],[1.79,-1.81],[1.85,-1.8],[1.91,-1.79],[1.96,-1.81],
[1.01,-1.85],[1.04,-1.84],[1.1,-1.84],[1.16,-1.85],[1.22,-1.86],[1.28,-1.84],[1.34,-1.85],[1.39,-1.84],[1.44,-1.86],[1.5,-1.84],[1.57,-1.85],[1.63,-1.84],[1.69,-1.86],[1.74,-1.84],[1.8,-1.85],[1.87,-1.84],[1.93,-1.86],[1.98,-1.84],
[1.03,-1.89],[1.08,-1.88],[1.14,-1.9],[1.2,-1.88],[1.25,-1.89],[1.31,-1.9],[1.37,-1.88],[1.43,-1.89],[1.49,-1.9],[1.55,-1.88],[1.61,-1.89],[1.67,-1.9],[1.73,-1.88],[1.78,-1.89],[1.84,-1.9],[1.9,-1.88],[1.96,-1.89],
[1.06,-1.93],[1.11,-1.92],[1.16,-1.94],[1.23,-1.92],[1.29,-1.93],[1.35,-1.94],[1.41,-1.92],[1.47,-1.93],[1.52,-1.94],[1.58,-1.92],[1.64,-1.93],[1.7,-1.94],[1.76,-1.92],[1.82,-1.93],[1.88,-1.94],[1.95,-1.92],[1.99,-1.93],
[1.08,-1.97],[1.13,-1.96],[1.18,-1.97],[1.24,-1.96],[1.3,-1.97],[1.36,-1.96],[1.42,-1.97],[1.48,-1.96],[1.54,-1.97],[1.6,-1.96],[1.66,-1.97],[1.72,-1.96],[1.78,-1.97],[1.84,-1.96],[1.9,-1.95],[1.94,-1.97],[1.98,-1.96],
[1.02,-1.99],[1.05,-1.98],[1.12,-1.99],[1.15,-2],[1.17,-1.99],[1.28,-1.98],[1.32,-1.99],[1.38,-1.99],[1.47,-1.98],[1.51,-1.99],[1.62,-1.98],[1.66,-1.99],[1.74,-1.98],[1.78,-1.99],[1.85,-1.98],[1.93,-1.98],[1.96,-1.99]
];
const fmt=v=>(v<0?'\u2212':'')+Math.abs(v).toFixed(1);
const font='"DejaVu Sans"';
const chart=echarts.init(document.getElementById('c'));
const gx=[202,292,381],gy=[97,124,151,179],rowLeft=193;
const g=[];
function cell(x0,y0,x1,y1,fill,z){g.push({type:'rect',silent:true,z:z||100,shape:{x:x0+.5,y:y0+.5,width:x1-x0,height:y1-y0},style:{fill:fill,stroke:'#000',lineWidth:1}});}
function label(x,y,s,align){g.push({type:'text',silent:true,z:110,x:x,y:y,style:{text:s,fill:'#000',font:'10px '+font,textAlign:align,textVerticalAlign:'middle'}});}
tableCols.forEach((c,j)=>{cell(gx[j],gy[0],gx[j+1],gy[1],'#fff');label((gx[j]+gx[j+1])/2,gy[0]+14,c,'center');});
tableRows.forEach((r,i)=>{cell(rowLeft,gy[i+1],gx[0],gy[i+2],'#fff');label(rowLeft+1.5,gy[i+1]+14,r,'left');
 tableCells[i].forEach((t,j)=>{cell(gx[j],gy[i+1],gx[j+1],gy[i+2],t);label(gx[j+1]-9,gy[i+1]+14,t,'right');});});
const axisCommon={axisLine:{show:true,onZero:false,lineStyle:{color:'#000',width:1}},splitLine:{show:false},
 axisTick:{show:true,length:4,inside:false,lineStyle:{color:'#000',width:1}},
 axisLabel:{color:'#000',fontFamily:font,fontSize:10,margin:6,formatter:fmt}};
function ax(ticks,lo,hi){return Object.assign({},axisCommon,{type:'value',min:lo,max:hi,
 axisTick:Object.assign({},axisCommon.axisTick,{customValues:ticks}),
 axisLabel:Object.assign({},axisCommon.axisLabel,{customValues:ticks})});}
const sc=(data,symbol,size,color)=>({type:'scatter',data,symbol,symbolSize:size,itemStyle:{color,opacity:1},silent:true,large:false,animation:false});
chart.setOption({animation:false,backgroundColor:'#fff',
 grid:{left:180.5,top:104.5,width:1116,height:672,show:true,borderColor:'#000',borderWidth:1,backgroundColor:'transparent'},
 xAxis:ax(xTicks,-2.21,2.21),yAxis:ax(yTicks,-2.2314,2.2116),
 series:[sc(darkRedCircles,'circle',6.5,'#C40000'),sc(redSquares,'rect',6,'#FF0000'),sc(greenSquares,'rect',6,'#00C400'),sc(limeTriangles,'triangle',7.5,'#00FF00')],
 graphic:g});
</script></body></html>
